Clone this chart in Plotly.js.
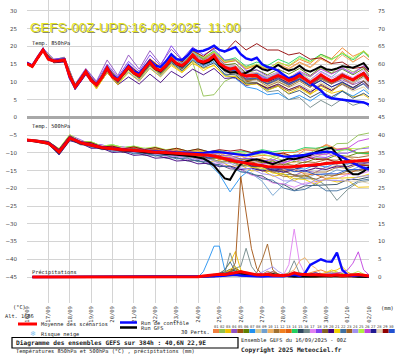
<!DOCTYPE html>
<html><head><meta charset="utf-8">
<script src="https://cdn.plot.ly/plotly-3.0.1.min.js"></script>
<style>html,body{margin:0;padding:0;background:#fff;}#c{width:395px;height:355px;}</style>
</head><body><div id="c"></div>
<script>
// ---- time axes (hours since 16/09 00Z) ----
const hours6 = [0,6,12,18,24,30,36,42,48,54,60,66,72,78,84,90,96,102,108,114,120,126,132,138,144,150,156,162,168,174,180,186,192,198,204,210,216,222,228,234,240,246,252,258,264,270,276,282,288,294,300,306,312,318,324,330,336,342,348,354,360,366,372,378,384];
const hoursP6 = [6,12,18,24,30,36,42,48,54,60,66,72,78,84,90,96,102,108,114,120,126,132,138,144,150,156,162,168,174,180,186,192,198,204,210,216,222,228,234,240,246,252,258,264,270,276,282,288,294,300,306,312,318,324,330,336,342,348,354,360,366,372,378,384];
const hoursM = [0,6,18,30,42,54,66,78,90,102,114,126,138,150,162,174,186,198,210,222,234,246,258,270,282,294,306,318,330,342,354,366,378,384];
const hours12 = [0,12,24,36,48,60,72,84,96,108,120,132,144,156,168,180,192,204,216,228,240,252,264,276,288,300,312,324,336,348,360,372,384];
const hoursP = [192,198,204,210,216,222,228,234,240,246,252,258,264,270,276,282,288,294,300,306,312,318,324,330,336,342,348,354,360,366,372,378,384];

const dayTicks = [0,24,48,72,96,120,144,168,192,216,240,264,288,312,336,360,384];
const dayLabels = ['16/09','17/09','18/09','19/09','20/09','21/09','22/09','23/09','24/09','25/09','26/09','27/09','28/09','29/09','30/09','01/10','02/10'];
const leftTicks = [-45,-40,-35,-30,-25,-20,-15,-10,-5,0,5,10,15,20,25,30];
const rightTicks = [0,5,10,15,20,25,30,35,40,45,50,55,60,65,70,75];

// ---- mean / control / GFS ----
const mean850 = [15.2,14.4,16.8,19.0,16.4,15.9,16.0,16.2,11.6,8.6,10.6,12.9,10.4,9.2,11.2,13.9,11.4,10.5,12.3,14.2,12.5,11.8,13.8,15.6,13.8,13.2,14.6,16.6,15.2,14.6,15.8,17.6,16.0,15.6,16.2,17.4,15.2,14.2,13.6,14.0,12.2,11.7,11.9,11.8,10.6,10.4,11.2,11.8,11.2,10.4,10.9,11.8,10.8,9.8,10.8,12.0,11.0,10.2,10.8,11.8,11.2,10.6,11.6,12.4,10.4];
const ctrl850 = [15.4,14.6,17.0,19.2,16.6,16.0,16.2,16.4,11.2,8.4,10.4,13.0,10.6,9.4,11.4,14.2,11.8,10.8,12.6,14.6,13.0,12.4,14.2,16.0,14.6,14.2,15.8,17.8,16.4,16.2,17.4,19.2,18.6,18.8,19.4,20.2,19.0,18.6,19.2,19.8,17.8,16.6,16.2,16.8,15.0,14.2,13.8,13.2,12.0,11.0,11.6,12.4,10.8,9.8,8.6,7.6,6.0,5.4,5.2,5.0,4.8,4.6,4.4,4.2,3.6];
const gfs850 = [15.2,14.4,16.8,19.0,16.4,15.8,15.8,16.0,11.8,8.8,10.8,13.0,10.4,9.2,11.2,13.8,11.4,10.4,12.2,14.0,12.4,11.6,13.6,15.4,13.6,13.0,14.4,16.4,15.0,14.4,15.6,17.4,15.8,15.2,15.6,16.6,14.6,13.4,12.6,12.8,12.2,12.6,13.4,14.6,13.6,13.2,13.8,14.8,13.8,13.2,13.6,14.6,13.4,12.9,13.6,14.4,13.6,13.4,13.8,14.4,14.2,14.0,14.6,15.3,13.4];
const mean500 = [-6.4,-6.5,-6.7,-7.0,-7.3,-8.4,-9.7,-7.9,-5.9,-6.4,-7.1,-7.5,-7.9,-8.3,-8.5,-8.7,-8.9,-9.0,-9.1,-9.2,-9.2,-9.4,-9.5,-9.7,-9.8,-9.8,-9.9,-10.0,-10.0,-10.1,-10.2,-10.2,-10.3,-10.5,-10.7,-10.9,-11.2,-11.6,-12.0,-12.4,-12.6,-12.8,-13.0,-13.3,-13.6,-13.9,-14.0,-14.0,-14.0,-14.0,-13.9,-13.8,-13.7,-13.6,-13.4,-13.2,-13.0,-12.9,-12.8,-12.6,-12.5,-12.3,-12.2,-12.1,-12.0];
const ctrl500 = [-6.4,-6.5,-6.6,-6.9,-7.2,-8.2,-9.6,-7.8,-5.8,-6.3,-7.0,-7.4,-7.8,-8.2,-8.4,-8.6,-8.8,-9.0,-9.1,-9.2,-9.3,-9.4,-9.5,-9.6,-9.6,-9.7,-9.8,-9.8,-9.9,-10.0,-10.0,-10.1,-10.1,-10.0,-9.8,-9.7,-9.8,-10.0,-10.2,-10.3,-10.5,-10.7,-10.4,-10.0,-9.7,-9.9,-10.3,-10.7,-11.0,-11.1,-11.0,-10.8,-10.6,-10.2,-10.0,-9.8,-9.7,-9.8,-10.4,-11.2,-12.0,-12.9,-13.6,-14.2,-14.7];
const gfs500 = [-6.4,-6.6,-6.8,-7.1,-7.4,-8.6,-9.9,-8.0,-6.0,-6.5,-7.2,-7.6,-8.0,-8.4,-8.6,-8.8,-9.0,-9.2,-9.3,-9.4,-9.5,-9.7,-9.9,-10.0,-10.0,-10.1,-10.2,-10.3,-10.4,-10.6,-10.8,-11.0,-11.2,-11.6,-12.4,-13.6,-15.4,-17.2,-17.6,-15.0,-13.2,-12.4,-12.0,-11.8,-12.2,-12.8,-13.2,-12.6,-12.0,-11.6,-11.8,-11.4,-11.0,-10.6,-9.8,-9.2,-8.8,-8.6,-10.4,-12.6,-15.0,-16.0,-16.0,-15.2,-14.0];
const meanPrecip = [0,0,0,0,0,0,0,0,0,0,0,0,0,0,0,0,0,0,0,0,0,0,0,0,0,0,0,0,0,0,0,0.1,0.3,0.5,0.8,0.8,0.7,1.0,1.2,1.5,1.2,0.8,0.6,0.6,0.8,0.5,0.4,0.4,0.6,1.2,0.8,0.6,0.6,0.6,0.5,0.5,0.4,0.6,0.4,0.5,0.6,0.7,0.5,0.3];
const ctrlPrecip = [0,0,0,0,0,0,0,0,0,0,0,0,0,0,0,0,0,0,0,0,0,0,0,0,0,0,0,0,0,0,0,0,0,0.1,0.2,0.3,0.4,0.5,0.6,0.4,0.3,0.2,0.1,0.1,0.2,0.3,0.2,0.2,0.3,0.6,0.3,1.0,3.4,4.2,5.0,4.4,4.3,6.9,2.0,0.6,0.3,0.5,0.5,0.2];
const gfsPrecip = [0,0,0,0,0,0,0,0,0,0,0,0,0,0,0,0,0,0,0,0,0,0,0,0,0,0,0,0,0,0,0,0,0,0.1,0.2,0.4,0.6,0.9,1.2,1.0,0.8,0.6,0.4,0.3,0.5,0.8,0.6,0.3,0.2,0.1,0.1,0.2,0.3,0.2,0.1,0.1,0.2,0.4,0.6,0.4,0.2,0.1,0.1,0];

// ---- 30 perturbations: 850 hPa (hoursM) ----
const t8_01 = [15.0,14.2,18.8,15.6,16.4,8.9,13.2,9.6,14.4,10.8,14.8,12.4,16.2,13.8,17.4,15.4,18.2,16.4,18.2,15.6,16.0,14.2,14.8,13.2,15.0,13.8,15.6,14.2,16.8,15.0,18.6,15.6,17.4,16.2];
const t8_02 = [15.4,14.6,19.2,16.2,17.0,9.2,13.4,9.8,14.0,10.6,14.0,11.6,15.2,12.8,16.0,13.8,15.6,6.0,6.4,10.2,11.6,9.8,11.2,9.6,11.8,10.6,12.6,11.4,13.8,12.6,14.6,12.8,14.2,12.0];
const t8_03 = [14.8,14.0,18.6,15.4,15.8,8.2,12.4,8.0,12.8,9.4,12.6,10.2,13.8,11.4,14.6,12.6,15.2,13.8,14.6,11.8,11.4,9.6,9.8,8.4,9.4,7.8,8.8,6.6,8.2,6.8,7.6,5.8,6.4,5.4];
const t8_04 = [15.6,14.8,19.4,16.4,16.8,9.4,13.8,10.2,16.2,11.8,17.6,13.6,18.8,15.0,19.2,16.2,18.6,16.8,18.0,15.0,14.6,12.4,12.6,11.2,12.2,10.8,11.6,9.6,11.0,9.4,10.6,9.2,10.4,9.0];
const t8_05 = [15.2,14.4,19.0,15.8,16.0,8.4,12.8,9.0,13.6,10.2,14.0,11.4,15.4,12.6,16.0,14.0,17.0,15.2,16.6,13.4,12.6,10.2,9.6,8.2,9.0,7.4,8.6,6.8,9.4,7.6,9.8,8.4,10.2,8.6];
const t8_06 = [15.0,14.4,18.8,16.0,16.6,8.8,13.0,9.4,14.2,10.6,14.6,12.0,16.0,13.6,17.0,15.0,18.0,16.2,17.6,14.8,15.2,12.6,13.4,12.0,13.6,12.2,13.8,11.8,14.2,12.4,13.6,12.0,13.8,11.6];
const t8_07 = [15.2,14.6,19.0,15.8,16.0,8.6,12.6,9.0,13.4,10.0,13.4,11.0,14.6,12.2,15.6,13.6,16.4,14.4,15.8,12.0,11.0,8.6,8.0,6.4,6.8,5.0,6.2,4.6,6.6,5.2,7.4,6.0,7.8,6.6];
const t8_08 = [15.4,14.4,19.2,16.0,16.2,8.6,13.2,9.4,14.0,10.4,14.4,11.8,15.8,13.4,16.8,14.8,17.8,15.8,17.2,14.2,13.8,11.2,11.0,9.2,10.2,8.4,9.6,7.6,9.8,8.0,9.2,7.4,8.6,7.0];
const t8_09 = [15.0,14.2,18.6,15.6,15.8,8.0,12.2,8.6,13.0,9.6,12.8,10.4,14.0,11.6,15.0,13.0,16.2,14.6,16.6,13.6,13.8,11.6,12.4,11.0,12.6,11.2,12.8,10.6,13.0,11.4,13.8,12.2,14.6,12.8];
const t8_10 = [15.2,14.6,19.2,16.2,16.4,9.0,13.4,9.8,14.6,11.0,15.0,12.6,16.6,14.2,17.8,15.8,18.8,17.0,18.6,15.8,16.4,13.8,14.6,13.2,14.8,13.6,15.4,14.0,16.4,15.0,17.6,15.6,18.8,16.8];
const t8_11 = [15.0,14.0,18.8,15.6,16.2,8.4,12.6,9.2,13.8,10.2,14.0,11.4,15.2,12.6,16.2,13.8,17.0,14.8,16.4,13.0,13.2,10.4,10.6,8.8,10.0,8.6,10.2,8.4,10.8,9.4,11.6,10.2,12.0,10.6];
const t8_12 = [15.4,14.6,19.2,16.0,16.4,8.8,13.0,9.4,14.0,10.8,14.4,12.0,15.8,13.4,17.0,15.2,18.0,16.4,18.4,15.4,16.0,13.6,14.8,13.6,15.6,14.4,16.4,15.2,17.8,16.6,19.6,17.2,18.6,17.4];
const t8_13 = [15.2,14.4,18.8,15.8,16.0,8.6,12.8,9.2,13.6,10.4,14.2,11.8,15.6,13.0,16.4,14.2,17.4,15.4,17.0,13.8,13.4,11.0,11.4,10.0,11.4,9.8,11.0,9.0,11.4,9.6,11.0,9.4,11.8,10.2];
const t8_14 = [15.0,14.2,19.0,16.0,16.6,8.8,13.2,9.6,14.2,10.8,14.6,12.2,16.2,13.8,17.2,15.2,18.2,16.6,18.8,16.0,16.8,14.4,15.6,14.6,16.4,15.2,17.2,15.8,17.8,16.4,18.0,16.2,18.4,17.0];
const t8_15 = [15.2,14.4,19.0,15.8,16.2,8.4,12.6,8.8,13.4,9.8,13.6,10.8,14.6,12.0,15.4,13.2,16.0,14.0,15.4,12.2,12.0,9.4,9.8,7.8,8.8,6.6,7.6,5.6,7.2,5.8,7.4,5.4,6.8,5.8];
const t8_16 = [15.4,14.6,19.2,16.2,16.4,8.8,13.0,9.4,13.8,10.4,14.0,11.6,15.2,12.8,16.2,14.0,17.0,14.8,16.2,12.8,12.4,9.8,9.6,7.2,7.6,5.0,5.6,2.8,4.8,3.2,5.2,3.4,4.4,3.0];
const t8_17 = [15.0,14.2,18.8,15.6,16.0,8.6,13.0,9.2,14.2,10.6,15.0,12.2,16.4,13.4,17.4,14.6,17.6,15.8,17.0,13.6,13.6,11.2,11.8,10.4,12.0,10.8,12.4,10.6,12.8,11.0,12.6,11.2,13.4,11.8];
const t8_18 = [15.4,14.6,19.4,16.4,16.8,9.2,13.6,10.0,15.0,11.4,15.8,13.0,17.6,14.6,20.2,16.4,19.8,17.6,19.2,16.2,16.2,13.2,13.4,11.6,12.8,11.0,12.2,10.2,11.8,10.4,12.0,10.6,12.6,11.0];
const t8_19 = [15.2,14.4,18.8,15.8,15.8,8.2,12.4,8.8,13.2,9.8,13.8,11.2,15.0,12.4,15.8,13.6,16.8,14.8,16.6,13.4,13.0,10.6,10.8,9.4,10.6,9.0,10.6,8.8,11.2,9.6,11.2,9.8,11.6,10.0];
const t8_20 = [15.0,14.2,18.6,15.4,15.6,7.8,12.0,8.4,12.6,9.2,11.4,9.4,12.2,9.8,13.0,11.2,13.6,12.0,13.8,11.0,11.2,9.0,9.6,8.2,9.4,7.8,9.0,7.2,9.0,7.6,9.4,7.8,9.6,8.2];
const t8_21 = [15.2,14.4,18.8,15.6,16.0,8.4,12.6,8.2,12.6,9.2,13.2,10.8,14.4,12.0,15.0,12.8,15.8,13.2,14.8,11.6,11.6,9.2,9.4,7.6,8.8,6.8,8.2,6.4,8.8,7.2,9.6,8.0,10.4,8.8];
const t8_22 = [15.4,14.6,19.0,16.0,16.4,8.8,13.0,9.4,14.0,10.6,14.4,12.0,15.8,13.2,16.8,14.6,17.8,15.6,17.2,14.2,14.2,11.8,12.4,10.8,12.0,10.2,11.2,9.0,10.4,8.6,9.8,8.2,9.4,7.8];
const t8_23 = [15.0,14.4,19.0,15.8,16.2,8.6,12.8,9.2,13.8,10.4,14.2,11.8,15.6,13.2,16.6,14.4,17.4,15.2,16.8,13.2,13.0,10.8,11.2,9.6,11.0,9.4,11.4,9.6,12.2,10.4,12.4,10.6,12.8,11.0];
const t8_24 = [15.2,14.4,19.0,16.0,16.4,8.8,13.4,9.6,14.6,11.0,15.2,12.4,16.4,13.8,17.6,15.2,18.4,16.0,17.8,14.6,14.4,12.0,12.2,10.8,12.2,10.6,11.8,9.8,11.6,10.0,11.4,9.6,11.2,9.6];
const t8_25 = [15.4,14.6,19.2,16.2,16.6,9.0,13.2,9.6,14.4,10.8,14.6,12.4,16.4,14.0,17.6,15.6,18.6,16.8,18.4,15.8,16.2,14.0,15.0,13.8,15.4,14.6,16.8,15.6,17.4,16.2,18.2,16.6,18.8,17.4];
const t8_26 = [15.0,14.2,18.8,15.8,16.0,8.4,12.8,9.0,13.8,10.2,14.2,11.6,15.4,12.8,16.4,14.2,17.2,15.0,16.8,13.6,13.4,11.4,12.0,10.6,12.4,11.2,13.0,11.6,13.6,12.2,14.0,12.4,14.6,13.0];
const t8_27 = [15.2,14.4,19.0,16.0,16.2,8.6,12.8,9.2,13.8,10.4,14.0,11.8,15.6,13.0,16.6,14.4,17.6,15.4,17.2,14.0,13.6,11.4,11.6,10.0,11.2,9.6,10.8,8.8,10.4,8.6,10.0,8.4,10.2,8.8];
const t8_28 = [15.4,14.6,19.2,16.0,16.2,8.8,13.0,9.6,14.2,10.6,14.4,12.0,16.0,13.6,16.8,14.8,17.6,15.6,17.4,14.4,14.6,12.0,12.8,11.4,12.8,11.4,12.6,10.6,12.0,10.2,11.6,9.8,11.2,9.4];
const t8_29 = [15.2,14.4,19.0,15.8,16.4,8.8,13.2,9.4,14.2,10.8,14.8,12.4,16.4,14.0,17.6,15.6,18.8,17.2,19.6,18.4,21.6,19.0,20.8,19.0,19.0,17.6,18.2,16.4,16.8,15.2,15.6,13.8,14.2,12.8];
const t8_30 = [15.0,14.2,18.8,15.6,16.0,8.4,12.6,9.0,13.4,10.0,13.6,11.2,15.0,12.6,16.0,14.0,17.0,14.8,16.6,13.4,13.2,10.8,11.0,9.4,10.8,9.2,10.8,9.0,11.6,10.0,12.2,10.8,12.8,11.2];

// ---- 30 perturbations: 500 hPa (hours12) ----
const t5_01 = [-6.2,-6.5,-7.0,-9.4,-5.4,-7.0,-7.3,-8.5,-8.2,-9.2,-8.7,-9.6,-9.0,-10.1,-9.4,-10.2,-9.3,-10.8,-10.1,-11.6,-10.8,-12.4,-11.4,-12.2,-10.4,-11.2,-9.2,-9.4,-7.6,-8.9,-8.6,-10.2,-9.6];
const t5_02 = [-6.4,-6.6,-7.2,-9.6,-5.8,-6.7,-8.1,-8.0,-9.2,-8.8,-9.8,-9.4,-10.6,-10.1,-11.2,-10.7,-12.0,-11.5,-12.9,-12.2,-13.5,-12.1,-12.8,-11.3,-12.1,-10.5,-11.0,-9.1,-9.6,-7.4,-7.3,-5.0,-4.4];
const t5_03 = [-6.6,-6.8,-7.4,-10.0,-6.2,-7.5,-7.7,-8.9,-8.7,-9.8,-9.3,-10.2,-9.7,-10.6,-10.3,-11.4,-11.0,-12.5,-12.1,-13.9,-13.4,-15.1,-14.8,-16.6,-16.1,-17.9,-16.2,-18.1,-17.5,-18.2,-17.8,-19.7,-19.6];
const t5_04 = [-6.2,-6.4,-6.9,-9.0,-5.0,-6.9,-7.1,-8.3,-8.1,-9.0,-8.5,-9.4,-8.9,-9.8,-9.3,-10.2,-9.7,-10.9,-10.6,-12.3,-12.1,-13.9,-13.7,-15.5,-15.0,-16.4,-15.1,-15.5,-13.9,-14.3,-12.9,-13.5,-12.6];
const t5_05 = [-6.4,-6.7,-7.2,-9.8,-6.0,-7.3,-7.5,-8.7,-8.5,-9.4,-9.0,-10.0,-9.6,-10.6,-10.0,-11.0,-10.5,-11.6,-11.2,-12.6,-12.4,-13.6,-13.2,-14.4,-14.0,-14.6,-13.4,-13.8,-12.6,-13.0,-11.8,-12.4,-11.8];
const t5_06 = [-6.3,-6.6,-7.0,-9.2,-5.6,-6.5,-7.9,-7.9,-8.9,-8.5,-9.4,-9.0,-10.0,-9.5,-10.4,-9.9,-10.6,-10.1,-11.2,-10.8,-12.0,-11.6,-12.8,-12.3,-13.4,-12.4,-12.8,-11.6,-11.8,-10.6,-11.0,-10.0,-10.0];
const t5_07 = [-6.5,-6.8,-7.4,-10.2,-6.0,-7.5,-7.7,-8.9,-8.7,-9.6,-9.2,-10.2,-9.8,-10.8,-10.2,-11.2,-10.6,-12.9,-16.0,-21.0,-16.8,-14.4,-14.8,-14.2,-15.4,-14.2,-14.6,-13.4,-14.0,-12.8,-13.2,-12.0,-12.0];
const t5_08 = [-6.4,-6.6,-7.1,-9.6,-5.8,-6.7,-8.1,-8.1,-9.1,-8.7,-9.6,-9.1,-10.2,-9.7,-10.6,-10.1,-11.0,-10.7,-11.8,-11.6,-13.0,-13.0,-14.4,-14.2,-15.6,-15.2,-15.6,-14.2,-14.6,-13.4,-13.8,-12.6,-12.8];
const t5_09 = [-6.6,-6.8,-7.4,-10.4,-6.4,-7.1,-8.5,-8.5,-9.6,-9.2,-10.2,-9.8,-10.8,-10.4,-11.6,-11.2,-12.4,-12.2,-13.8,-13.8,-15.4,-15.8,-18.0,-22.0,-19.0,-17.2,-17.2,-16.0,-16.2,-14.8,-15.2,-14.0,-14.0];
const t5_10 = [-6.2,-6.4,-6.8,-8.8,-5.0,-6.9,-6.9,-8.1,-7.9,-8.7,-8.3,-9.1,-8.7,-9.5,-9.1,-9.9,-9.5,-10.3,-10.1,-11.1,-10.9,-11.9,-11.8,-12.9,-12.4,-12.8,-11.2,-11.2,-10.0,-11.2,-11.0,-12.4,-12.6];
const t5_11 = [-6.4,-6.6,-7.2,-9.8,-6.0,-6.9,-8.1,-8.1,-9.1,-8.9,-9.7,-9.3,-10.1,-9.7,-10.5,-10.1,-10.9,-10.7,-11.9,-12.1,-13.5,-13.7,-15.1,-15.3,-16.7,-16.6,-16.8,-15.4,-15.4,-14.0,-14.4,-13.2,-13.4];
const t5_12 = [-6.2,-6.5,-6.9,-9.2,-5.2,-6.9,-7.1,-8.3,-8.1,-8.9,-8.5,-9.3,-8.9,-9.5,-9.1,-9.7,-9.3,-10.1,-9.7,-10.5,-10.3,-11.1,-10.7,-10.9,-9.9,-9.9,-8.9,-8.9,-7.9,-9.1,-8.9,-10.1,-10.4];
const t5_13 = [-6.4,-6.7,-7.2,-9.6,-5.8,-6.7,-8.1,-8.1,-9.1,-8.7,-9.5,-9.1,-10.1,-9.7,-10.5,-10.1,-10.9,-10.7,-11.7,-11.5,-12.5,-12.5,-13.7,-13.7,-14.9,-14.7,-15.9,-16.1,-17.3,-16.1,-15.9,-14.7,-14.6];
const t5_14 = [-6.2,-6.4,-6.8,-9.0,-5.2,-6.9,-6.9,-8.1,-7.7,-8.5,-8.1,-8.9,-8.5,-9.3,-8.7,-9.5,-8.9,-9.7,-9.3,-10.1,-9.5,-9.9,-9.1,-9.7,-9.3,-9.5,-8.5,-8.7,-8.3,-9.3,-9.1,-10.1,-10.2];
const t5_15 = [-6.6,-6.8,-7.4,-10.2,-6.2,-7.7,-7.9,-9.1,-8.9,-9.9,-9.7,-10.7,-10.5,-11.5,-11.3,-12.3,-12.1,-13.3,-13.3,-14.5,-14.7,-16.1,-16.5,-18.3,-18.9,-20.6,-19.3,-19.1,-19.1,-18.9,-17.5,-17.5,-16.8];
const t5_16 = [-6.4,-6.6,-7.2,-9.8,-6.0,-6.9,-8.1,-8.1,-9.1,-8.9,-9.7,-9.5,-10.3,-10.1,-10.9,-10.5,-11.5,-11.3,-12.5,-12.5,-13.7,-13.7,-14.9,-14.9,-16.1,-16.1,-17.3,-17.3,-19.3,-23.4,-20.3,-18.3,-17.8];
const t5_17 = [-6.4,-6.6,-7.2,-9.6,-5.8,-7.3,-7.5,-8.9,-8.7,-9.7,-9.3,-10.3,-10.1,-11.1,-10.9,-11.9,-11.7,-12.9,-12.9,-14.3,-14.7,-16.3,-16.9,-18.5,-18.7,-19.7,-18.5,-18.5,-17.3,-17.3,-16.1,-16.1,-15.2];
const t5_18 = [-6.2,-6.4,-6.8,-9.0,-5.0,-6.3,-7.7,-7.7,-8.7,-8.3,-9.1,-8.7,-9.5,-9.1,-9.9,-9.5,-10.3,-9.9,-10.9,-10.7,-11.7,-11.5,-12.3,-11.9,-12.7,-11.9,-12.1,-11.1,-11.3,-10.1,-10.1,-8.9,-8.6];
const t5_19 = [-6.5,-6.8,-7.3,-10.0,-6.2,-7.5,-7.7,-8.9,-8.7,-9.7,-9.3,-10.1,-9.9,-10.7,-10.3,-11.1,-10.7,-11.7,-11.5,-12.7,-12.7,-13.9,-13.9,-15.1,-15.1,-16.3,-16.3,-17.5,-16.3,-16.3,-15.1,-15.1,-14.4];
const t5_20 = [-6.6,-6.8,-7.4,-10.6,-6.6,-7.3,-8.7,-8.7,-9.9,-9.7,-10.7,-10.5,-11.5,-11.3,-12.3,-12.1,-13.1,-12.9,-13.9,-13.7,-14.7,-14.3,-15.1,-14.7,-15.5,-14.7,-15.1,-14.3,-14.7,-13.7,-13.9,-12.9,-12.8];
const t5_21 = [-6.4,-6.6,-7.2,-9.6,-5.8,-7.3,-7.5,-8.7,-8.5,-9.5,-9.1,-10.1,-9.7,-10.5,-10.1,-10.9,-10.5,-11.5,-11.5,-12.7,-12.7,-14.1,-14.3,-15.7,-15.9,-17.3,-17.5,-18.9,-17.3,-17.1,-17.1,-16.9,-16.0];
const t5_22 = [-6.6,-6.8,-7.4,-10.4,-6.4,-7.1,-8.5,-8.5,-9.5,-9.3,-10.3,-10.1,-10.9,-10.7,-11.7,-11.5,-12.5,-12.5,-13.7,-13.9,-15.3,-15.7,-17.3,-17.7,-19.9,-20.7,-20.3,-18.7,-20.7,-20.7,-19.7,-17.9,-17.4];
const t5_23 = [-6.3,-6.6,-7.0,-9.4,-5.6,-7.1,-7.3,-8.5,-8.3,-9.1,-8.7,-9.5,-9.1,-9.9,-9.5,-10.3,-9.9,-10.9,-10.7,-11.7,-11.7,-12.7,-12.5,-13.5,-13.1,-13.5,-12.5,-12.7,-11.9,-12.1,-11.1,-11.3,-10.8];
const t5_24 = [-6.5,-6.7,-7.3,-9.8,-6.0,-6.9,-8.3,-8.3,-9.3,-9.1,-9.9,-9.7,-10.5,-10.3,-11.1,-10.9,-11.9,-11.7,-12.9,-12.9,-14.3,-14.5,-15.9,-16.3,-17.9,-17.9,-19.1,-17.7,-17.7,-17.9,-17.9,-16.7,-16.4];
const t5_25 = [-6.2,-6.4,-6.8,-8.8,-4.8,-6.7,-6.9,-8.1,-7.7,-8.5,-8.1,-8.7,-8.3,-9.1,-8.7,-9.5,-9.1,-9.9,-9.5,-10.3,-9.9,-10.7,-10.3,-11.1,-10.7,-11.1,-10.3,-10.7,-9.7,-9.9,-8.7,-8.9,-8.2];
const t5_26 = [-6.4,-6.6,-7.0,-9.4,-5.6,-6.5,-7.9,-7.9,-8.9,-8.5,-9.5,-9.1,-9.9,-9.5,-10.3,-9.9,-10.7,-10.5,-11.5,-11.3,-12.3,-12.1,-13.1,-12.7,-12.9,-11.7,-11.7,-10.5,-10.5,-9.1,-8.7,-6.7,-6.0];
const t5_27 = [-6.5,-6.7,-7.2,-9.8,-6.0,-7.5,-7.7,-8.9,-8.7,-9.5,-9.1,-10.1,-9.7,-10.5,-10.1,-10.9,-10.5,-11.5,-11.3,-12.5,-12.5,-13.7,-13.7,-14.9,-14.5,-14.7,-13.7,-13.9,-12.9,-13.1,-12.1,-12.5,-11.8];
const t5_28 = [-6.3,-6.5,-7.0,-9.2,-5.4,-6.5,-7.9,-7.9,-8.9,-8.5,-9.3,-8.9,-9.7,-9.3,-10.1,-9.7,-10.5,-10.1,-11.1,-10.9,-12.1,-12.1,-13.3,-13.3,-14.5,-14.5,-15.7,-15.7,-16.9,-16.9,-18.1,-17.9,-18.6];
const t5_29 = [-6.2,-6.4,-6.8,-9.0,-5.2,-6.9,-7.1,-8.3,-8.1,-8.9,-8.3,-9.1,-8.5,-9.3,-8.7,-9.5,-8.9,-9.7,-9.1,-9.5,-9.1,-9.9,-9.5,-10.3,-10.1,-11.1,-10.9,-11.9,-11.7,-12.7,-12.5,-13.5,-13.6];
const t5_30 = [-6.4,-6.6,-7.1,-9.6,-5.8,-7.3,-7.5,-8.7,-8.5,-9.3,-8.9,-9.7,-9.5,-10.3,-9.9,-10.7,-10.3,-11.3,-11.1,-12.1,-12.1,-13.3,-13.3,-14.5,-14.3,-15.3,-15.1,-16.1,-15.9,-15.9,-14.7,-14.7,-14.0];

// ---- 30 perturbations: precipitation (hoursP, mm) ----
const p_01 = [0,0,0.1,0.3,0.5,0.8,1.2,0.9,0.6,0.4,0.3,0.2,0.4,0.6,0.4,0.2,0.1,0.2,0.5,0.3,0.2,0.1,0.2,0.5,0.9,1.4,0.8,0.4,0.2,0.1,0.2,0.3,0.1];
const p_02 = [0,0.2,0.5,0.8,0.6,0.4,0.8,1.0,0.6,0.3,0.2,0.1,0.2,0.3,0.2,0.1,0,0.1,0.3,0.2,0.1,0,0,0.1,0.3,0.2,0.1,0.2,0.4,0.3,0.1,0,0];
const p_03 = [0,0,0.3,0.6,1.0,2.0,4.0,7.2,2.0,1.0,0.6,0.4,0.3,0.2,0.2,0.4,0.6,0.3,0.2,0.1,0.2,0.4,0.6,0.8,1.2,1.6,2.0,2.9,1.4,0.6,0.3,0.2,0.1];
const p_04 = [0,0,0.2,0.4,0.6,1.0,1.6,1.2,0.8,0.5,0.3,0.2,0.3,0.6,1.0,0.6,0.3,0.4,0.8,0.5,0.3,0.2,0.2,0.4,0.6,0.4,0.2,0.3,0.6,1.0,0.6,0.3,0.1];
const p_05 = [0,0,0.2,0.4,0.6,0.8,1.5,4.0,28.3,17.5,8.0,2.4,0.8,0.5,0.3,0.2,0.1,0.3,0.4,0.2,0.1,0,0,0.2,0.1,0,0.2,0.3,0.1,0,0,0.1,0];
const p_06 = [0,0,0.1,0.2,0.5,0.9,1.4,2.0,1.2,0.6,0.4,0.3,0.2,0.3,0.5,0.3,0.2,0.2,0.3,0.2,0.1,0.1,0.2,0.3,0.2,0.1,0,0.1,0.2,0.1,0,0,0];
const p_07 = [0,1.5,5.0,8.7,8.7,2.0,0.6,0.4,0.8,0.3,0.2,0.2,0.3,0.2,0.1,0.1,0.2,0.4,0.2,0.1,0,0,0.2,0.3,0.1,0,0,0.2,0.4,0.2,0.1,0,0];
const p_08 = [0,0,0,0.2,0.4,0.6,0.9,1.3,0.8,0.5,0.3,0.2,0.4,0.8,1.2,0.8,0.4,0.3,0.2,0.3,0.5,0.7,0.5,0.3,0.2,0.1,0.2,0.4,0.3,0.2,0.1,0.1,0];
const p_09 = [0,0.1,0.3,0.6,1.0,1.4,1.0,0.6,0.4,0.3,0.2,0.3,0.5,0.8,0.6,0.4,0.2,0.1,0.2,0.4,0.6,0.9,1.2,0.8,0.5,0.3,0.2,0.1,0.2,0.3,0.2,0.1,0];
const p_10 = [0,0,0,0.1,0.2,0.4,0.6,0.8,0.6,0.4,0.3,0.2,0.2,0.3,0.4,0.6,0.8,1.2,2.0,4.5,5.5,3.5,2.5,1.0,0.6,0.4,0.6,0.8,0.5,0.3,0.2,0.2,0.1];
const p_11 = [0,0,0.2,0.3,0.4,0.6,0.8,1.2,1.8,1.0,0.6,0.4,0.8,1.6,1.0,0.5,0.3,0.2,0.3,0.4,0.3,0.2,0.1,0.2,0.3,0.2,0.1,0.1,0.2,0.3,0.2,0.1,0];
const p_12 = [0,0,0.2,0.4,0.8,1.2,1.8,2.4,1.6,0.8,0.5,0.4,0.3,0.2,0.3,0.5,0.4,0.3,0.2,0.4,0.8,1.2,1.6,2.0,1.4,0.8,0.5,0.3,0.2,0.3,0.4,0.2,0.1];
const p_13 = [0,0,0.1,0.2,0.3,0.5,0.7,1.0,1.4,0.9,0.5,0.3,0.2,0.4,0.6,0.4,0.2,0.2,0.4,0.6,0.4,0.2,0.1,0.2,0.4,0.7,0.5,0.3,0.2,0.1,0.1,0.2,0.1];
const p_14 = [0,0,0,0.1,0.2,0.4,0.6,0.5,0.4,0.3,0.2,0.1,0.2,0.3,0.2,0.1,0.1,0.2,0.4,0.3,0.2,0.1,0.1,0.2,0.3,0.5,0.3,0.2,0.1,0.1,0,0,0];
const p_15 = [0,0.1,0.3,0.6,0.9,1.4,2.2,1.6,1.0,0.6,0.4,0.6,1.0,0.7,0.4,0.3,0.2,0.4,0.8,1.2,0.8,0.5,0.3,0.2,0.4,0.6,0.4,0.2,0.1,0.2,0.3,0.2,0.1];
const p_16 = [0,0.2,0.4,0.6,0.8,1.0,6.8,2.5,3.0,8.1,3.0,1.0,0.6,0.4,0.5,0.3,0.4,1.2,4.6,1.0,0.3,0.2,0.1,0.2,0.4,0.2,0.1,0,0.2,0.3,0.1,0,0];
const p_17 = [0,0,0,0.1,0.2,0.3,0.4,0.5,0.6,0.4,0.3,0.5,0.8,1.2,1.5,0.8,0.6,3.5,13.5,4.0,1.0,0.5,0.3,0.2,0.2,0.3,0.2,0.1,0.2,0.4,0.3,0.2,0.1];
const p_18 = [0,0,0.1,0.2,0.4,0.6,0.8,0.6,0.4,0.3,0.4,0.6,0.9,0.6,0.4,0.3,0.2,0.3,0.5,0.7,0.5,0.3,0.2,0.3,0.5,0.8,1.1,0.7,0.4,0.3,0.2,0.1,0];
const p_19 = [0,0,0.2,0.4,0.7,1.0,1.5,2.4,1.6,0.9,0.5,0.3,0.5,1.0,1.5,0.9,0.4,0.3,0.2,0.2,0.3,0.2,0.1,0.2,0.3,0.2,0.1,0.1,0.2,0.1,0,0,0];
const p_20 = [0,0,0.1,0.2,0.3,0.4,0.6,0.9,0.7,0.5,0.3,0.2,0.3,0.5,0.3,0.2,0.1,0.2,0.4,0.3,0.5,0.8,1.2,0.8,0.5,0.3,0.4,0.7,0.5,0.3,0.2,0.1,0];
const p_21 = [0,0,0.2,0.4,0.6,1.2,2.2,3.0,1.4,0.8,0.5,0.3,0.2,0.4,0.6,0.4,0.3,0.2,0.3,0.6,1.0,0.7,0.4,0.6,1.2,2.0,1.4,0.8,0.4,0.2,0.3,0.2,0.1];
const p_22 = [0,0,0.2,0.5,1.0,2.0,4.3,1.5,0.8,0.6,0.4,0.3,0.2,0.4,0.6,0.4,0.3,0.5,1.4,0.8,0.4,0.3,0.2,0.3,0.5,0.3,0.2,0.1,0.1,0.2,0.1,0,0];
const p_23 = [0,0,0.1,0.2,0.3,0.4,0.6,0.8,1.0,0.6,0.4,1.2,4.8,9.3,2.0,0.8,0.4,0.3,0.2,0.2,0.1,0.1,0.3,0.5,0.2,0.1,0,0,0.1,0.2,0.1,0,0];
const p_24 = [0,0,0,0.2,0.3,0.4,0.6,0.8,0.6,0.4,0.5,0.8,1.4,2.2,2.9,1.6,0.8,0.6,0.5,0.4,0.3,0.2,0.3,0.6,1.0,1.4,1.0,0.6,0.4,0.6,0.8,0.4,0.2];
const p_25 = [0,0,0,0.1,0.2,0.3,0.4,0.3,0.2,0.2,0.1,0.1,0.2,0.4,0.3,0.2,0.1,0.1,0.2,0.3,0.2,0.1,0.1,0.3,0.6,0.9,1.4,0.9,0.6,1.0,1.6,0.8,0.3];
const p_26 = [0,0,0,0.1,0.2,0.3,0.5,0.4,0.3,0.2,0.2,0.1,0.2,0.4,0.6,0.4,0.3,0.2,0.4,0.6,0.4,0.3,0.2,0.4,0.6,0.8,1.0,1.4,2.0,3.9,7.1,2.0,0.6];
const p_27 = [0,0,0.1,0.3,0.5,0.7,1.0,1.3,0.9,0.6,0.4,0.3,0.4,0.6,0.5,0.3,0.2,0.3,0.4,0.6,0.8,0.5,0.3,0.2,0.3,0.4,0.3,0.2,0.1,0.2,0.4,0.3,0.1];
const p_28 = [0,0,0,0.2,0.4,0.6,0.5,0.4,0.6,0.9,0.6,0.4,0.3,0.2,0.3,0.5,0.4,0.3,0.6,1.0,0.6,0.3,0.2,0.1,0.2,0.3,0.2,0.1,0.1,0.2,0.3,0.2,0.1];
const p_29 = [0,0,0,0.1,0.2,0.3,0.5,0.8,1.2,0.8,0.5,0.3,0.4,0.7,0.5,0.3,0.2,0.1,0.2,0.3,0.2,0.1,0.1,0.2,0.3,0.2,0.1,0,0.1,0.2,0.1,0,0];
const p_30 = [0,0,0.2,0.5,0.8,1.1,1.4,1.0,0.7,0.5,0.3,0.2,0.3,0.5,0.4,0.3,0.2,0.4,0.7,1.0,0.8,0.6,0.4,0.3,0.5,0.8,0.6,0.4,0.3,0.2,0.3,0.4,0.2];

const memberColors = ['#f08040','#90c050','#f0c000','#9050c0','#a05010','#608000','#2090f0','#d8c890','#70a0d0','#f0b060','#a07030','#f08020','#e06010','#20d060','#304860','#708888','#e080f0','#8040f0','#806020','#400080','#f0d000','#4070a0','#a06020','#a090f0','#b0f040','#c040e0','#201890','#e0d0b0','#900000','#2050d0'];
const memberLabels = ['01','02','03','04','05','06','07','08','09','10','11','12','13','14','15','16','17','18','19','20','21','22','23','24','25','26','27','28','29','30'];

const members850 = [t8_01,t8_02,t8_03,t8_04,t8_05,t8_06,t8_07,t8_08,t8_09,t8_10,t8_11,t8_12,t8_13,t8_14,t8_15,t8_16,t8_17,t8_18,t8_19,t8_20,t8_21,t8_22,t8_23,t8_24,t8_25,t8_26,t8_27,t8_28,t8_29,t8_30];
const members500 = [t5_01,t5_02,t5_03,t5_04,t5_05,t5_06,t5_07,t5_08,t5_09,t5_10,t5_11,t5_12,t5_13,t5_14,t5_15,t5_16,t5_17,t5_18,t5_19,t5_20,t5_21,t5_22,t5_23,t5_24,t5_25,t5_26,t5_27,t5_28,t5_29,t5_30];
const membersP = [p_01,p_02,p_03,p_04,p_05,p_06,p_07,p_08,p_09,p_10,p_11,p_12,p_13,p_14,p_15,p_16,p_17,p_18,p_19,p_20,p_21,p_22,p_23,p_24,p_25,p_26,p_27,p_28,p_29,p_30];

// ---- traces ----
const traces = [];
const thin = 0.9;
members850.forEach((v,i)=>traces.push({x:hoursM,y:v,type:'scatter',mode:'lines',line:{color:memberColors[i],width:thin},hoverinfo:'skip'}));
members500.forEach((v,i)=>traces.push({x:hours12,y:v,type:'scatter',mode:'lines',line:{color:memberColors[i],width:thin},hoverinfo:'skip'}));
traces.push({x:hours6,y:gfs850,type:'scatter',mode:'lines',line:{color:'#000000',width:2},hoverinfo:'skip'});
traces.push({x:hours6,y:gfs500,type:'scatter',mode:'lines',line:{color:'#000000',width:2},hoverinfo:'skip'});
traces.push({x:hours6,y:ctrl850,type:'scatter',mode:'lines',line:{color:'#0a0aff',width:2.4},hoverinfo:'skip'});
traces.push({x:hours6,y:ctrl500,type:'scatter',mode:'lines',line:{color:'#0a0aff',width:2.4},hoverinfo:'skip'});
traces.push({x:hours6,y:mean850,type:'scatter',mode:'lines',line:{color:'#ff0000',width:3},hoverinfo:'skip'});
traces.push({x:hours6,y:mean500,type:'scatter',mode:'lines',line:{color:'#ff0000',width:3},hoverinfo:'skip'});
membersP.forEach((v,i)=>traces.push({x:hoursP,y:v,yaxis:'y2',type:'scatter',mode:'lines',line:{color:memberColors[i],width:thin},hoverinfo:'skip'}));
traces.push({x:hoursP6,y:gfsPrecip,yaxis:'y2',type:'scatter',mode:'lines',line:{color:'#000000',width:2},hoverinfo:'skip'});
traces.push({x:hoursP6,y:ctrlPrecip,yaxis:'y2',type:'scatter',mode:'lines',line:{color:'#0a0aff',width:2.4},hoverinfo:'skip'});
traces.push({x:hoursP6,y:meanPrecip,yaxis:'y2',type:'scatter',mode:'lines',line:{color:'#ff0000',width:3},hoverinfo:'skip'});

// ---- layout helpers (pixel -> paper) ----
const PL=27, PR=369, PT=0, PB=303;
const ax = px => (px-PL)/(PR-PL);
const ay = py => (PB-py)/(PB-PT);
const MONO = 'DejaVu Sans Mono, monospace';
function txt(s, px, py, size, opts){
  opts = opts || {};
  return Object.assign({text:s, x:ax(px), y:ay(py), xref:'paper', yref:'paper', xanchor:'left', yanchor:'middle', showarrow:false, borderpad:0,
    font:{family:MONO, size:size, color:'#222'}}, opts);
}
const annotations = [
  txt('GEFS-00Z-UPD:16-09-2025  11:00', 29, 27.5, 13.5, {font:{family:'Liberation Sans, Arial, sans-serif', size:13.5, color:'#e6e620', shadow:'1px 1px 0px #8c8c64'}}),
  txt('Temp. 850hPa', 31, 43, 5.3),
  txt('Temp. 500hPa', 31, 127, 5.3),
  txt('Précipitations', 31, 272.5, 5.3),
  txt('(°C)', 12, 307, 5.3),
  txt('Alt. 1686', 4, 316, 5.3),
  txt('(mm)', 380, 308, 5.3),
  txt('Moyenne des scénarios', 40, 324, 5.3),
  txt('Run de contrôle', 140, 322.5, 5.3),
  txt('Run GFS', 140, 327.5, 5.3),
  txt('30 Perts.', 180, 331.5, 5.3),
  txt('❄', 29, 333.5, 7, {font:{family:'DejaVu Sans', size:7, color:'#7fc0f0'}}),
  txt('Risque neige', 40, 334, 5.3),
  txt('<b>Diagramme des ensembles GEFS sur 384h : 40,6N 22,9E</b>', 15, 342.8, 6.2),
  txt('Températures 850hPa et 500hPa (°C) , précipitations (mm)', 15, 351, 5.3),
  txt('Ensemble GEFS du 16/09/2025 - 00Z', 240, 340, 5.3),
  txt('<b>Copyright 2025 Meteociel.fr</b>', 240, 350, 6.2)
];
const shapes = [
  {type:'line', xref:'paper', yref:'paper', x0:ax(18), x1:ax(37), y0:ay(324), y1:ay(324), line:{color:'#ff0000', width:3}},
  {type:'line', xref:'paper', yref:'paper', x0:ax(120), x1:ax(137), y0:ay(322.5), y1:ay(322.5), line:{color:'#0a0aff', width:2.5}},
  {type:'line', xref:'paper', yref:'paper', x0:ax(120), x1:ax(137), y0:ay(327.5), y1:ay(327.5), line:{color:'#000000', width:2.5}},
  {type:'rect', xref:'paper', yref:'paper', x0:ax(12), x1:ax(238), y0:ay(348), y1:ay(337.5), line:{color:'#000000', width:1.2}, fillcolor:'rgba(0,0,0,0)'}
];
memberLabels.forEach((lab,k)=>{
  const cx = 216 + 6.06*k;
  shapes.push({type:'rect', xref:'paper', yref:'paper', x0:ax(cx-3), x1:ax(cx+3), y0:ay(333), y1:ay(329), line:{width:0}, fillcolor:memberColors[k]});
  annotations.push({text:lab, x:ax(cx), y:ay(326), xref:'paper', yref:'paper', xanchor:'center', yanchor:'middle', showarrow:false, borderpad:0, font:{family:MONO, size:3.8, color:'#333'}});
});

const layout = {
  width:395, height:355,
  margin:{l:PL, r:395-PR, t:PT, b:355-PB, pad:0},
  paper_bgcolor:'#ffffff', plot_bgcolor:'#ffffff', showlegend:false,
  xaxis:{range:[0,384], tickvals:dayTicks, ticktext:dayLabels, tickangle:-90, showgrid:true, gridcolor:'#d4d4d4', gridwidth:1,
         zeroline:false, showline:false, ticks:'', tickfont:{family:MONO, size:5.5, color:'#333'}, ticklabelstandoff:1, fixedrange:true},
  yaxis:{range:[-52.33,33.10], tickvals:leftTicks, showgrid:true, gridcolor:'#d4d4d4', gridwidth:1, zeroline:true, zerolinecolor:'#a8a8a8', zerolinewidth:2.5,
         showline:false, ticks:'', tickfont:{family:'DejaVu Sans, sans-serif', size:5.5, color:'#444'}, ticklabelstandoff:9, fixedrange:true},
  yaxis2:{range:[-7.33,78.10], overlaying:'y', side:'right', tickvals:rightTicks, showgrid:false, zeroline:false, showline:false, ticks:'',
         tickfont:{family:'DejaVu Sans, sans-serif', size:5.5, color:'#444'}, ticklabelstandoff:8, fixedrange:true},
  annotations:annotations, shapes:shapes
};
Plotly.newPlot('c', traces, layout, {staticPlot:true, displayModeBar:false});
</script>
</body></html>
